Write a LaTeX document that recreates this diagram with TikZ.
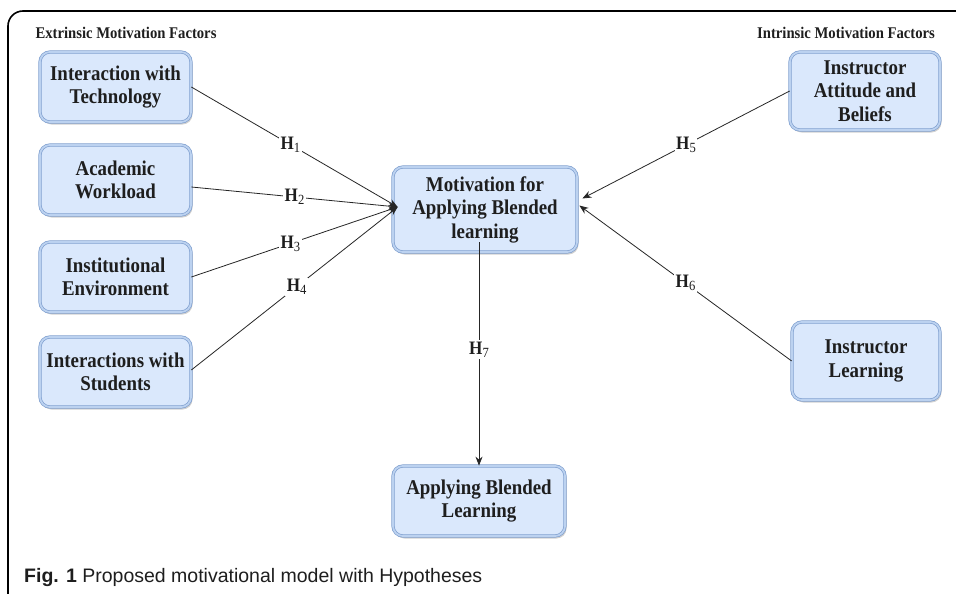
\documentclass[tikz,border=0pt]{standalone}
\usepackage{fontspec}
\setmainfont{Liberation Serif}
\newfontfamily\boxfont[FakeStretch=0.9]{Liberation Serif}
\newfontfamily\capfont{Liberation Sans}
\usetikzlibrary{arrows.meta,shadows,calc}
\definecolor{boxfill}{HTML}{DAE8FC}
\definecolor{boxline}{HTML}{7F9FCF}
\definecolor{boxband}{HTML}{BCD2F0}
\definecolor{txt}{HTML}{1E1E1E}
\begin{document}
\begin{tikzpicture}[x=1pt,y=-1pt,
  fbox/.style={rounded corners=10pt, fill=boxfill, draw=boxline, line width=0.7pt,
    double=boxband, double distance=1.8pt,
    drop shadow={shadow xshift=1.5pt, shadow yshift=-2.5pt, fill=black!40, opacity=0.45},
    align=center, inner sep=1pt, text=txt,
    font=\boxfont\fontsize{21}{23.5}\selectfont\bfseries},
  hdr/.style={font=\boxfont\fontsize{16.3}{18}\selectfont\bfseries, text=txt, inner sep=0pt},
  arr/.style={draw=black!85, line width=0.8pt, -{Stealth[length=9pt,width=7pt]}},
  lbl/.style={fill=white, inner sep=1.5pt, text=txt, font=\boxfont\fontsize{19}{20}\selectfont\bfseries}
]
\useasboundingbox (0,0) rectangle (956,594);
\fill[white] (0,0) rectangle (956,594);
% frame
\draw[line width=1.6pt, rounded corners=15pt] (960,11) -- (8,11) -- (8,612) -- (40,612);
% headers
\node[hdr] (hx) at (126,33) {Extrinsic Motivation Factors};
\node[hdr] (hi) at (846,33) {Intrinsic Motivation Factors};
% boxes
\node[fbox, minimum width=151pt, minimum height=70pt] (it) at (115.5,87) {Interaction with\\Technology};
\node[fbox, minimum width=151pt, minimum height=70pt] (aw) at (115.5,180) {Academic\\Workload};
\node[fbox, minimum width=151pt, minimum height=70pt] (ie) at (115.5,277) {Institutional\\Environment};
\node[fbox, minimum width=151pt, minimum height=70pt] (is) at (115.5,372) {Interactions with\\Students};
\node[fbox, minimum width=184pt, minimum height=85pt] (mot) at (485,209.5) {Motivation for\\Applying Blended\\learning};
\node[fbox, minimum width=172pt, minimum height=70pt] (bot) at (479,501) {Applying Blended\\Learning};
\node[fbox, minimum width=150pt, minimum height=78pt] (iab) at (865,91) {Instructor\\Attitude and\\Beliefs};
\node[fbox, minimum width=148pt, minimum height=78pt] (il) at (866,361) {Instructor\\Learning};
% convergence points
\coordinate (cl) at ($(mot.west)+(5,-2.5)$);
\coordinate (c5) at ($(mot.east)+(5,-11)$);
\coordinate (c6) at ($(mot.east)+(2,-4)$);
% connectors
\draw[arr] (it.east) -- node[lbl,pos=0.48] {H\raisebox{-0.35ex}{\mdseries\fontsize{14}{14}\selectfont 1}} (cl);
\draw[arr] ($(aw.east)+(0,7)$) -- node[lbl,pos=0.5] {H\raisebox{-0.35ex}{\mdseries\fontsize{14}{14}\selectfont 2}} (cl);
\draw[arr] (ie.east) -- node[lbl,pos=0.48] {H\raisebox{-0.35ex}{\mdseries\fontsize{14}{14}\selectfont 3}} (cl);
\draw[arr] ($(is.east)+(0,-2)$) -- node[lbl,pos=0.51] {H\raisebox{-0.35ex}{\mdseries\fontsize{14}{14}\selectfont 4}} (cl);
\draw[arr] (iab.west) -- node[lbl,pos=0.5] {H\raisebox{-0.35ex}{\mdseries\fontsize{14}{14}\selectfont 5}} (c5);
\draw[arr] (il.west) -- node[lbl,pos=0.5] {H\raisebox{-0.35ex}{\mdseries\fontsize{14}{14}\selectfont 6}} (c6);
\draw[arr] ($(mot.south -| bot.north)+(0,-10)$) -- node[lbl,pos=0.48] {H\raisebox{-0.35ex}{\mdseries\fontsize{14}{14}\selectfont 7}} (bot.north);
% caption
\node[anchor=west, inner sep=0pt, text=txt, font=\capfont\fontsize{19.5}{22}\selectfont] (cap) at (24,577) {\textbf{Fig. 1} Proposed motivational model with Hypotheses};
\end{tikzpicture}
\end{document}
